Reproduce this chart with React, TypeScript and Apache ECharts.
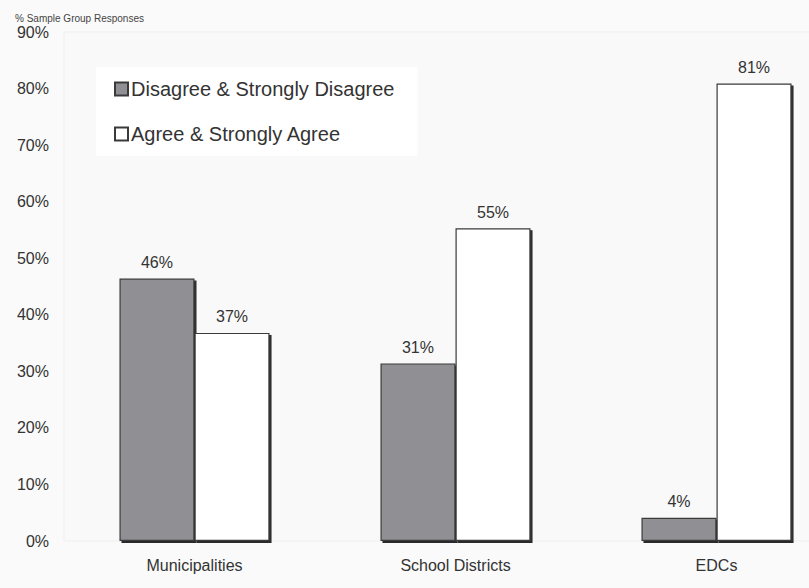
import React, { useEffect, useRef } from "react";
import * as echarts from "echarts";

const categories = ["Municipalities", "School Districts", "EDCs"];
const disagreeValues = [46.4, 31.4, 4.1];
const agreeValues = [36.8, 55.3, 80.9];
const seriesNames = ["Disagree & Strongly Disagree", "Agree & Strongly Agree"];
const yTicks = [0, 10, 20, 30, 40, 50, 60, 70, 80, 90];
const yAxisTitle = "% Sample Group Responses";

export default function App() {
  const ref = useRef<HTMLDivElement>(null);
  useEffect(() => {
    document.body.style.margin = "0";
    const chart = echarts.init(ref.current!, undefined, { renderer: "svg" });
    const font = "'Liberation Sans', Arial, sans-serif";
    const barStyle = (color: string) => ({
      color,
      borderColor: "#3a3a3a",
      borderWidth: 1.2,
      shadowColor: "#2a2a2a",
      shadowOffsetX: 2,
      shadowOffsetY: 2,
      shadowBlur: 0,
    });
    const label = {
      show: true,
      position: "top" as const,
      distance: 8,
      fontFamily: font,
      fontSize: 16,
      color: "#333",
      formatter: (p: any) => Math.round(p.value) + "%",
    };
    chart.setOption({
      animation: false,
      backgroundColor: "#fafafa",
      title: {
        text: yAxisTitle,
        left: 10,
        top: 8,
        textStyle: { fontFamily: font, fontSize: 10, fontWeight: "normal", color: "#444" },
      },
      legend: {
        left: 96,
        top: 67,
        orient: "vertical",
        backgroundColor: "#ffffff",
        padding: [10, 23, 10, 18],
        itemGap: 21,
        itemWidth: 13,
        itemHeight: 13,
        icon: "rect",
        textStyle: { fontFamily: font, fontSize: 20, color: "#333", lineHeight: 24, padding: [0, 0, 0, -2] },
        data: seriesNames,
      },
      grid: {
        left: 64,
        width: 783,
        top: 32,
        height: 509,
        outerBoundsMode: "none",
        containLabel: false,
        show: true,
        backgroundColor: "#f9f9f9",
        borderColor: "#efefef",
        borderWidth: 1,
      },
      xAxis: {
        type: "category",
        data: categories,
        axisLine: { show: false },
        axisTick: { show: false },
        axisLabel: { fontFamily: font, fontSize: 16, color: "#333", margin: 16 },
      },
      yAxis: {
        type: "value",
        min: yTicks[0],
        max: yTicks[yTicks.length - 1],
        interval: 10,
        splitLine: { show: false },
        axisLine: { show: false },
        axisTick: { show: false },
        axisLabel: {
          fontFamily: font,
          fontSize: 16,
          color: "#333",
          margin: 15,
          formatter: (v: number) => v + "%",
        },
      },
      series: [
        {
          name: seriesNames[0],
          type: "bar",
          data: disagreeValues,
          barGap: "0%",
          barCategoryGap: "42.5%",
          itemStyle: barStyle("#909094"),
          label,
        },
        {
          name: seriesNames[1],
          type: "bar",
          data: agreeValues,
          barGap: "0%",
          barCategoryGap: "42.5%",
          itemStyle: barStyle("#ffffff"),
          label,
        },
      ],
    });
    return () => chart.dispose();
  }, []);
  return <div ref={ref} style={{ width: 809, height: 588 }} />;
}
